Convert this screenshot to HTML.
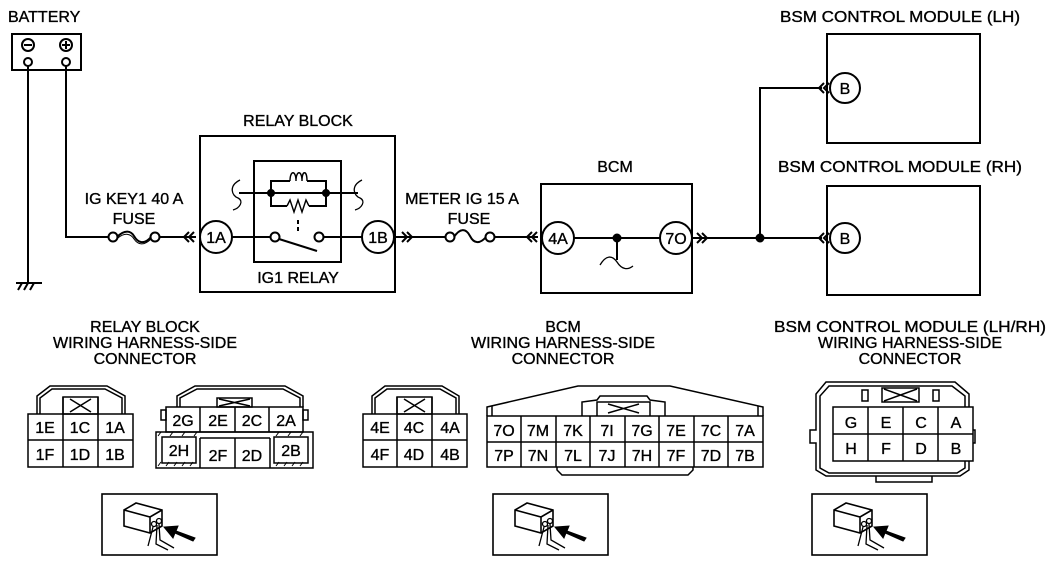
<!DOCTYPE html>
<html><head><style>
html,body{margin:0;padding:0;background:#fff;}
svg{display:block;}
text{font-family:"Liberation Sans",sans-serif;font-size:16px;fill:#000;stroke:#000;stroke-width:0.35px;}
.c{text-anchor:middle;}
</style></head><body>
<svg width="1046" height="565" viewBox="0 0 1046 565" xmlns="http://www.w3.org/2000/svg" fill="none" stroke="#000" stroke-width="2">
<defs>
<g id="pict">
  <rect x="0" y="0" width="115" height="61" stroke-width="1.6"/>
  <path d="M22 16 L34 9 L60 16 L60 32 L48 39 L22 32 Z M22 16 L48 23 L60 16 M48 23 L48 39" stroke-width="1.6"/>
  <circle cx="52" cy="30" r="2.5" stroke-width="1.3"/>
  <circle cx="57" cy="27" r="2.5" stroke-width="1.3"/>
  <path d="M51 33 L46 52 M55 31 L54 50 L66 56 M57 30 L58 46 L72 54" stroke-width="1.3"/>
  <path d="M93 44 L74 37 L76 32 L62 33 L71 44 L73 39 L91 47 Z" fill="#000" stroke-width="1"/>
</g>
</defs>

<!-- Battery -->
<text x="8" y="22">BATTERY</text>
<rect x="12" y="34" width="69" height="36"/>
<circle cx="28" cy="45" r="6"/><line x1="24" y1="45" x2="32" y2="45"/>
<circle cx="66" cy="45" r="6"/><line x1="62" y1="45" x2="70" y2="45"/><line x1="66" y1="41" x2="66" y2="49"/>
<circle cx="28" cy="62" r="4"/><circle cx="66" cy="62" r="4"/>
<line x1="28" y1="66" x2="28" y2="282"/>
<line x1="16" y1="283" x2="42" y2="283"/>
<path d="M18 290 L22 283 M24 290 L28 283 M30 290 L34 283"/>
<polyline points="66,66 66,237 108,237"/>

<!-- fuse 1 -->
<text x="134" y="204" class="c">IG KEY1 40 A</text>
<text x="134" y="224" class="c">FUSE</text>
<circle cx="113" cy="237" r="4.5"/><circle cx="155" cy="237" r="4.5"/>
<path d="M117 237 C125 229 131 231 134 236 C138 243 144 245 151 237"/>
<path d="M118 238 C125 232 131 234 134 239 C138 245 144 246 151 239" stroke-width="1"/>
<line x1="159" y1="237" x2="196" y2="237"/>
<path d="M189 232 L184 237 L189 242 M194 232 L189 237 L194 242"/>

<!-- Relay block -->
<text x="298" y="126" class="c">RELAY BLOCK</text>
<rect x="200" y="136" width="195" height="156"/>
<rect x="254" y="161" width="87" height="101"/>
<circle cx="216" cy="237" r="16"/><text x="216" y="243" class="c">1A</text>
<circle cx="378" cy="237" r="16"/><text x="378" y="243" class="c">1B</text>
<line x1="232" y1="237" x2="271" y2="237"/>
<circle cx="275" cy="237" r="4.5"/><circle cx="319" cy="237" r="4.5"/>
<line x1="279" y1="239" x2="317" y2="251"/>
<line x1="298" y1="220" x2="298" y2="232" stroke-dasharray="4 3"/>
<line x1="323" y1="237" x2="362" y2="237"/>
<line x1="239" y1="193" x2="358" y2="193"/>
<path d="M240 180 C228 186 232 196 238 198 C244 201 240 208 233 210" stroke-width="1.3"/>
<path d="M362 180 C350 186 354 196 360 198 C366 201 362 208 355 210" stroke-width="1.3"/>
<circle cx="271" cy="193" r="3" fill="#000"/><circle cx="326" cy="193" r="3" fill="#000"/>
<polyline points="271,193 271,181 290,181"/><polyline points="307,181 326,181 326,206 309,206"/>
<polyline points="271,193 271,206 287,206"/>
<path d="M290 181 C290 170 296 170 296 181 C296 170 302 170 302 181 C302 170 307 170 307 181" stroke-width="1.4"/>
<path d="M287 206 L290 200 L294 212 L298 200 L302 212 L306 200 L309 206" stroke-width="1.4"/>
<text x="298" y="283" class="c">IG1 RELAY</text>

<!-- fuse 2 -->
<path d="M402 232 L407 237 L402 242 M407 232 L412 237 L407 242"/>
<line x1="394" y1="237" x2="446" y2="237"/>
<text x="462" y="204" class="c">METER IG 15 A</text>
<text x="469" y="224" class="c">FUSE</text>
<circle cx="450" cy="237" r="4.5"/><circle cx="490" cy="237" r="4.5"/>
<path d="M454 237 C460 228 466 228 470 236 C474 244 480 244 486 237"/>
<line x1="494" y1="237" x2="538" y2="237"/>
<path d="M532 232 L527 237 L532 242 M537 232 L532 237 L537 242"/>

<!-- BCM -->
<text x="615" y="172" class="c">BCM</text>
<rect x="541" y="184" width="151" height="109"/>
<circle cx="558" cy="238" r="16"/><text x="558" y="244" class="c">4A</text>
<circle cx="676" cy="238" r="16"/><text x="676" y="244" class="c">7O</text>
<line x1="574" y1="238" x2="660" y2="238"/>
<circle cx="617" cy="238" r="3.5" fill="#000"/>
<line x1="617" y1="238" x2="617" y2="260"/>
<path d="M600 265 C606 255 612 255 617 262 C622 270 628 270 633 266" stroke-width="1.3"/>
<path d="M697 233 L702 238 L697 243 M702 233 L707 238 L702 243"/>
<line x1="692" y1="238" x2="822" y2="238"/>
<circle cx="760" cy="238" r="3.5" fill="#000"/>
<polyline points="760,238 760,88 822,88"/>

<!-- BSM LH -->
<text x="900" y="22" class="c" textLength="240" lengthAdjust="spacingAndGlyphs">BSM CONTROL MODULE (LH)</text>
<rect x="827" y="34" width="153" height="109"/>
<circle cx="845" cy="88" r="15" fill="#fff"/><text x="845" y="94" class="c">B</text>
<path d="M824 83 L819 88 L824 93 M829 83 L824 88 L829 93"/>
<!-- BSM RH -->
<text x="900" y="172" class="c" textLength="244" lengthAdjust="spacingAndGlyphs">BSM CONTROL MODULE (RH)</text>
<rect x="827" y="186" width="153" height="109"/>
<circle cx="845" cy="238" r="15" fill="#fff"/><text x="845" y="244" class="c">B</text>
<path d="M824 233 L819 238 L824 243 M829 233 L824 238 L829 243"/>

<!-- bottom labels -->
<text x="145" y="332" class="c">RELAY BLOCK</text>
<text x="145" y="348" class="c">WIRING HARNESS-SIDE</text>
<text x="145" y="364" class="c">CONNECTOR</text>
<text x="563" y="332" class="c">BCM</text>
<text x="563" y="348" class="c">WIRING HARNESS-SIDE</text>
<text x="563" y="364" class="c">CONNECTOR</text>
<text x="910" y="332" class="c" textLength="272" lengthAdjust="spacingAndGlyphs">BSM CONTROL MODULE (LH/RH)</text>
<text x="910" y="348" class="c">WIRING HARNESS-SIDE</text>
<text x="910" y="364" class="c">CONNECTOR</text>

<!-- Connector 1 -->
<g stroke-width="1.5">
<rect x="28" y="414" width="105" height="53"/>
<line x1="28" y1="440" x2="133" y2="440"/>
<line x1="63" y1="397" x2="63" y2="467"/><line x1="98" y1="397" x2="98" y2="467"/>
<path d="M37 414 L37 396 L50 386 L107 386 L125 396 L125 414"/>
<path d="M40 414 L40 398 L52 389 L105 389 L122 398 L122 414"/>
<rect x="63" y="397" width="35" height="17"/>
<path d="M70 399 L91 412 M91 399 L70 412"/>
</g>
<text x="45" y="433" class="c">1E</text><text x="80" y="433" class="c">1C</text><text x="115" y="433" class="c">1A</text>
<text x="45" y="460" class="c">1F</text><text x="80" y="460" class="c">1D</text><text x="115" y="460" class="c">1B</text>

<!-- Connector 2 -->
<g stroke-width="1.5">
<rect x="166" y="407" width="137" height="25"/>
<line x1="200" y1="407" x2="200" y2="432"/><line x1="235" y1="407" x2="235" y2="432"/><line x1="269" y1="407" x2="269" y2="432"/>
<rect x="161" y="410" width="5" height="10"/><rect x="303" y="410" width="5" height="10"/>
<path d="M177 407 L177 396 L195 386 L285 386 L303 396 L303 407"/>
<path d="M180 407 L180 398 L197 389 L283 389 L300 398 L300 407"/>
<rect x="217" y="398" width="35" height="9"/><path d="M219 399 L250 406 M250 399 L219 406"/>
<rect x="156" y="432" width="157" height="36"/>
<line x1="200" y1="438" x2="200" y2="468"/><line x1="235" y1="438" x2="235" y2="468"/><line x1="270" y1="438" x2="270" y2="468"/>
<line x1="200" y1="438" x2="270" y2="438"/>
<rect x="162" y="437" width="34" height="26"/>
<rect x="274" y="437" width="34" height="26"/>
<path d="M158 466 L161 462 M166 466 L169 462 M174 466 L177 462 M182 466 L185 462 M190 466 L193 462 M158 436 L161 432 M170 436 L173 432 M182 436 L185 432 M194 436 L197 432 M276 466 L279 462 M284 466 L287 462 M292 466 L295 462 M300 466 L303 462 M276 436 L279 432 M288 436 L291 432 M300 436 L303 432" stroke-width="1"/>
</g>
<text x="183" y="426" class="c">2G</text><text x="218" y="426" class="c">2E</text><text x="252" y="426" class="c">2C</text><text x="286" y="426" class="c">2A</text>
<text x="179" y="456" class="c">2H</text><text x="218" y="461" class="c">2F</text><text x="252" y="461" class="c">2D</text><text x="291" y="456" class="c">2B</text>

<!-- Connector 4 -->
<g stroke-width="1.5">
<rect x="363" y="414" width="104" height="53"/>
<line x1="363" y1="440" x2="467" y2="440"/>
<line x1="397" y1="397" x2="397" y2="467"/><line x1="432" y1="397" x2="432" y2="467"/>
<path d="M372 414 L372 396 L385 386 L442 386 L459 396 L459 414"/>
<path d="M375 414 L375 398 L387 389 L440 389 L456 398 L456 414"/>
<rect x="397" y="397" width="35" height="17"/>
<path d="M404 399 L425 412 M425 399 L404 412"/>
</g>
<text x="380" y="433" class="c">4E</text><text x="414" y="433" class="c">4C</text><text x="450" y="433" class="c">4A</text>
<text x="380" y="460" class="c">4F</text><text x="414" y="460" class="c">4D</text><text x="450" y="460" class="c">4B</text>

<!-- Connector 7 BCM -->
<g stroke-width="1.5">
<rect x="487" y="416" width="276" height="51"/>
<line x1="487" y1="442" x2="763" y2="442"/>
<line x1="521" y1="416" x2="521" y2="467"/><line x1="556" y1="416" x2="556" y2="467"/><line x1="590" y1="416" x2="590" y2="467"/><line x1="625" y1="416" x2="625" y2="467"/><line x1="659" y1="416" x2="659" y2="467"/><line x1="694" y1="416" x2="694" y2="467"/><line x1="728" y1="416" x2="728" y2="467"/>
<path d="M487 416 L487 407 L578 386 L670 386 L763 407 L763 416"/>
<path d="M492 416 L492 406 M758 416 L758 406"/>
<path d="M582 416 L582 402 L597 400 L600 396 L647 396 L650 400 L665 402 L665 416"/>
<path d="M597 416 L597 402 L650 402 L650 416"/>
<path d="M608 404 L639 413 M639 404 L608 413"/>
<path d="M557 467 L557 470 L562 475 L688 475 L693 470 L693 467"/>
</g>
<text x="504" y="436" class="c">7O</text><text x="538" y="436" class="c">7M</text><text x="573" y="436" class="c">7K</text><text x="607" y="436" class="c">7I</text><text x="642" y="436" class="c">7G</text><text x="676" y="436" class="c">7E</text><text x="711" y="436" class="c">7C</text><text x="745" y="436" class="c">7A</text>
<text x="504" y="461" class="c">7P</text><text x="538" y="461" class="c">7N</text><text x="573" y="461" class="c">7L</text><text x="607" y="461" class="c">7J</text><text x="642" y="461" class="c">7H</text><text x="676" y="461" class="c">7F</text><text x="711" y="461" class="c">7D</text><text x="745" y="461" class="c">7B</text>

<!-- BSM connector -->
<g stroke-width="1.5">
<path d="M826 382 L955 382 L969 394 L969 430 L975 430 L975 443 L969 443 L969 470 L960 476 L826 476 L816 470 L816 443 L810 443 L810 430 L816 430 L816 394 Z"/>
<path d="M829 386 L952 386 L965 396 L965 468 L957 473 L829 473 L820 468 L820 396 Z"/>
<rect x="833" y="407" width="140" height="54" fill="#fff"/>
<line x1="833" y1="434" x2="973" y2="434"/>
<line x1="868" y1="407" x2="868" y2="461"/><line x1="903" y1="407" x2="903" y2="461"/><line x1="938" y1="407" x2="938" y2="461"/>
<rect x="862" y="390" width="6" height="11"/><rect x="933" y="390" width="6" height="11"/>
<rect x="882" y="388" width="37" height="14"/><path d="M884 389 L917 401 M917 389 L884 401"/>
<path d="M876 476 L876 482 L932 482 L932 476"/>
</g>
<text x="851" y="428" class="c">G</text><text x="886" y="428" class="c">E</text><text x="921" y="428" class="c">C</text><text x="956" y="428" class="c">A</text>
<text x="851" y="454" class="c">H</text><text x="886" y="454" class="c">F</text><text x="921" y="454" class="c">D</text><text x="956" y="454" class="c">B</text>

<!-- pictograms -->
<use href="#pict" x="102" y="494"/>
<use href="#pict" x="493" y="494"/>
<use href="#pict" x="812" y="494"/>
</svg>
</body></html>
